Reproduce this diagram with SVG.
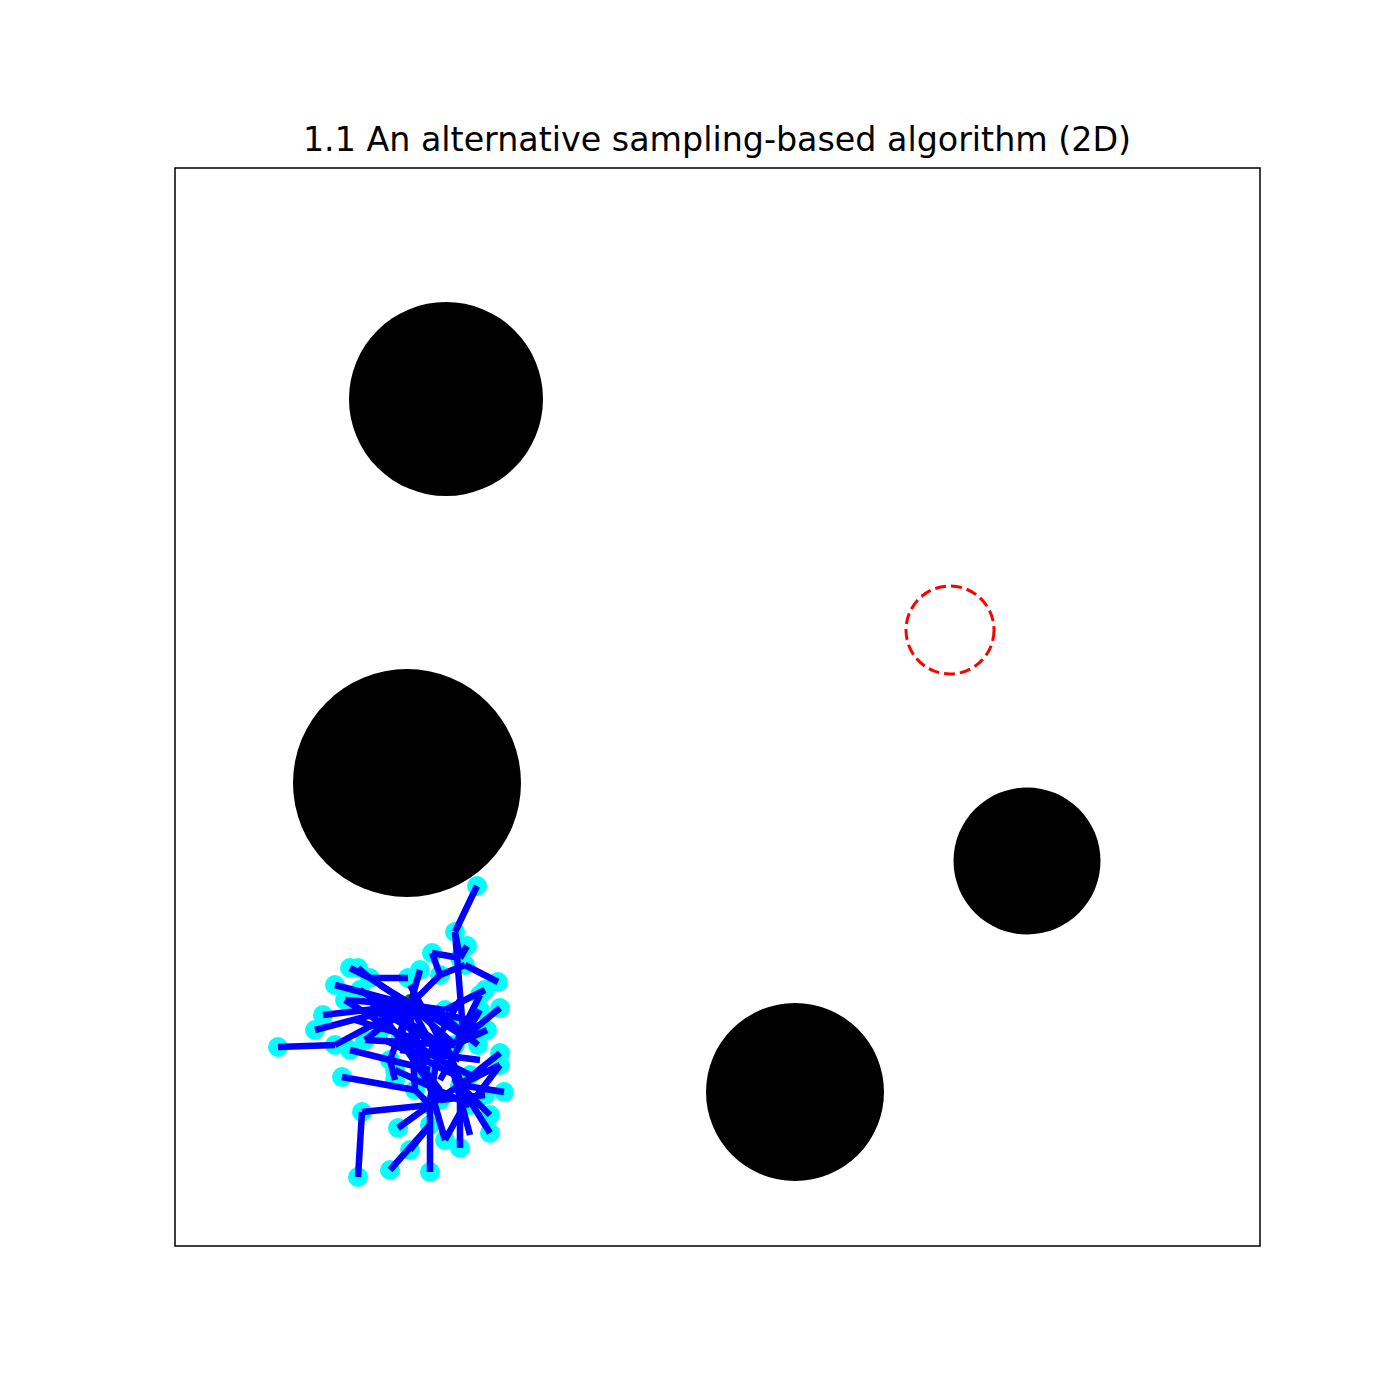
<svg xmlns="http://www.w3.org/2000/svg" width="1400" height="1400" viewBox="0 0 1400 1400">
<style>
.obs{fill:#000}
.e{stroke:#0000ff;stroke-width:6.5;fill:none}
.n{fill:#00ffff}
.t{font-family:"DejaVu Sans",sans-serif;font-size:33.3px;fill:#000}
</style>
<rect width="1400" height="1400" fill="#fff"/>
<text class="t" x="717" y="151" text-anchor="middle">1.1 An alternative sampling-based algorithm (2D)</text>
<rect x="175" y="168" width="1085" height="1078" fill="none" stroke="#000" stroke-width="1.5"/>
<g id="obstacles">
<circle id="obs1" class="obs" cx="446" cy="399" r="97"/>
<circle id="obs2" class="obs" cx="407" cy="783" r="114"/>
<circle id="obs3" class="obs" cx="1027" cy="861" r="73.5"/>
<circle id="obs4" class="obs" cx="795" cy="1092" r="89"/>
</g>
<g id="goal"><circle cx="950" cy="630" r="44" fill="none" stroke="#ff0000" stroke-width="3" stroke-dasharray="11,5"/></g>
<g id="nodes">
<circle class="n" cx="410" cy="1005" r="10"/><circle class="n" cx="440" cy="975" r="10"/><circle class="n" cx="465" cy="965" r="10"/><circle class="n" cx="498" cy="982" r="10"/>
<circle class="n" cx="432" cy="953" r="10"/><circle class="n" cx="460" cy="958" r="10"/><circle class="n" cx="467" cy="946" r="10"/><circle class="n" cx="455" cy="932" r="10"/>
<circle class="n" cx="477" cy="886" r="10"/><circle class="n" cx="463" cy="1030" r="10"/><circle class="n" cx="370" cy="978" r="10"/><circle class="n" cx="408" cy="978" r="10"/>
<circle class="n" cx="350" cy="968" r="10"/><circle class="n" cx="358" cy="968" r="10"/><circle class="n" cx="335" cy="985" r="10"/><circle class="n" cx="323" cy="1015" r="10"/>
<circle class="n" cx="315" cy="1030" r="10"/><circle class="n" cx="335" cy="1045" r="10"/><circle class="n" cx="278" cy="1047" r="10"/><circle class="n" cx="455" cy="1045" r="10"/>
<circle class="n" cx="500" cy="1008" r="10"/><circle class="n" cx="487" cy="1030" r="10"/><circle class="n" cx="480" cy="995" r="10"/><circle class="n" cx="415" cy="1090" r="10"/>
<circle class="n" cx="342" cy="1077" r="10"/><circle class="n" cx="430" cy="1105" r="10"/><circle class="n" cx="362" cy="1112" r="10"/><circle class="n" cx="358" cy="1177" r="10"/>
<circle class="n" cx="430" cy="1172" r="10"/><circle class="n" cx="398" cy="1128" r="10"/><circle class="n" cx="430" cy="1125" r="10"/><circle class="n" cx="390" cy="1170" r="10"/>
<circle class="n" cx="460" cy="1085" r="10"/><circle class="n" cx="504" cy="1092" r="10"/><circle class="n" cx="500" cy="1053" r="10"/><circle class="n" cx="500" cy="1065" r="10"/>
<circle class="n" cx="490" cy="1133" r="10"/><circle class="n" cx="460" cy="1148" r="10"/><circle class="n" cx="440" cy="1100" r="10"/><circle class="n" cx="485" cy="1095" r="10"/>
<circle class="n" cx="390" cy="1060" r="10"/><circle class="n" cx="395" cy="1080" r="10"/><circle class="n" cx="440" cy="1060" r="10"/><circle class="n" cx="470" cy="1075" r="10"/>
<circle class="n" cx="365" cy="1040" r="10"/><circle class="n" cx="420" cy="970" r="10"/><circle class="n" cx="445" cy="1010" r="10"/><circle class="n" cx="485" cy="990" r="10"/>
<circle class="n" cx="380" cy="1030" r="10"/><circle class="n" cx="345" cy="1000" r="10"/><circle class="n" cx="448" cy="1020" r="10"/><circle class="n" cx="490" cy="1115" r="10"/>
<circle class="n" cx="410" cy="1150" r="10"/><circle class="n" cx="478" cy="1045" r="10"/><circle class="n" cx="400" cy="1040" r="10"/>
<circle class="n" cx="350" cy="1050" r="10"/><circle class="n" cx="395" cy="1070" r="10"/><circle class="n" cx="470" cy="1105" r="10"/><circle class="n" cx="445" cy="1140" r="10"/>
<circle class="n" cx="480" cy="1010" r="10"/><circle class="n" cx="360" cy="990" r="10"/><circle class="n" cx="425" cy="1070" r="10"/>
</g>
<g id="start"><circle cx="410" cy="1000" r="6" fill="#008000"/></g>
<g id="connectors">
<path class="e" d="M410 1005L440 975M440 975L465 965M465 965L498 982M440 975L432 953M432 953L460 958M460 958L467 946M460 958L455 932M455 932L477 886M455 932L463 1030"/>
<path class="e" d="M410 1005L370 978M370 978L408 978M370 978L350 968M370 978L358 968M410 1005L335 985M410 1005L323 1015M410 1005L315 1030M410 1005L335 1045M335 1045L278 1047"/>
<path class="e" d="M410 1005L455 1045M455 1045L500 1008M455 1045L487 1030M455 1045L480 995M410 1005L415 1090M415 1090L342 1077M415 1090L430 1105M430 1105L362 1112M362 1112L358 1177"/>
<path class="e" d="M430 1105L430 1172M430 1105L398 1128M430 1125L390 1170M430 1105L460 1085M460 1085L504 1092M460 1085L500 1053M460 1085L500 1065M460 1085L490 1133M460 1085L460 1148M440 1100L485 1095"/>
<path class="e" d="M410 1005L390 1060M390 1060L395 1080M410 1005L440 1060M440 1060L470 1075M410 1005L365 1040M410 1005L420 970M410 1005L445 1010M445 1010L485 990M410 1005L380 1030M410 1005L345 1000"/>
<path class="e" d="M410 1005L448 1020M448 1020L478 1045M460 1085L490 1115M430 1125L410 1150M410 1005L400 1040M400 1040L440 1100M365 1040L455 1045M345 1000L440 1060"/>
<path class="e" d="M350 1050L430 1070M360 990L450 1050M380 985L470 1040M370 1000L440 1090M395 1070L470 1105M425 1070L445 1140M440 1030L470 1105M460 1000L420 1070M480 1010L440 1080M355 1020L420 1040"/>
<path class="e" d="M380 1010L460 1060M400 1050L480 1060M450 1060L470 1135M440 1040L430 1100M420 1010L470 1020M385 1040L455 1075M470 1105L500 1065M445 1140L470 1095M410 985L440 1040"/>
</g>
</svg>
